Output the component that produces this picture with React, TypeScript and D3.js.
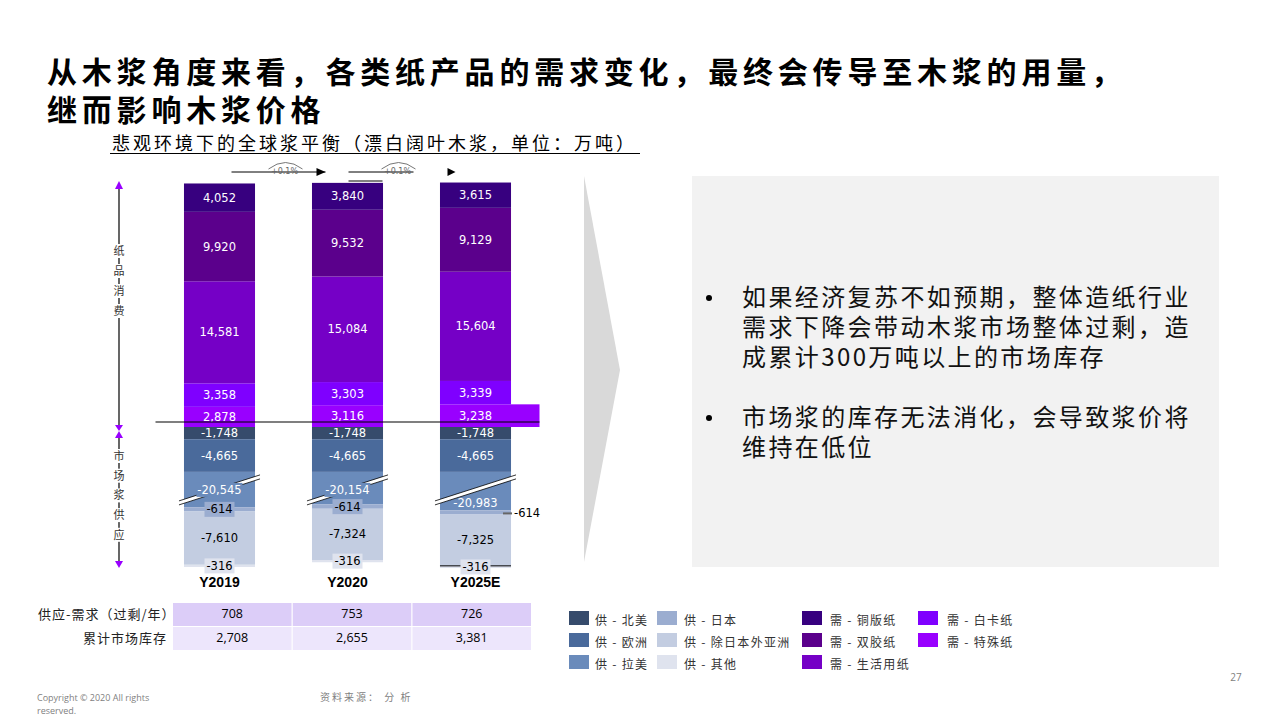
import * as d3 from 'd3';

// ---- data (万吨) ----
const years = ['Y2019', 'Y2020', 'Y2025E'];

// demand, stacked upward from zero (bottom first)
const demandNames = ['特殊纸', '白卡纸', '生活用纸', '双胶纸', '铜版纸'];
const specialty = [2878, 3116, 3238];
const boxboard = [3358, 3303, 3339];
const tissue = [14581, 15084, 15604];
const woodfree = [9920, 9532, 9129];
const coated = [4052, 3840, 3615];

// supply, stacked downward from zero (top first)
const supplyNames = ['北美', '欧洲', '拉美', '日本', '除日本外亚洲', '其他'];
const northAmerica = [-1748, -1748, -1748];
const europe = [-4665, -4665, -4665];
const latinAmerica = [-20545, -20154, -20983];
const japan = [-614, -614, -614];
const asiaExJapan = [-7610, -7324, -7325];
const others = [-316, -316, -316];

const surplus = [708, 753, 726];
const inventory = [2708, 2655, 3381];

// part of the Latin America bar that is cut out by the axis break
const AXIS_BREAK = 15500;

const demandColors: Record<string, string> = {
  特殊纸: '#9900ff',
  白卡纸: '#7f00ff',
  生活用纸: '#7500c6',
  双胶纸: '#5b008c',
  铜版纸: '#37007f',
};
const supplyColors: Record<string, string> = {
  北美: '#364b6c',
  欧洲: '#4a6a9b',
  拉美: '#6a8bbb',
  日本: '#9badd0',
  除日本外亚洲: '#c3cde1',
  其他: '#dfe3ee',
};

const demandSeries = [specialty, boxboard, tissue, woodfree, coated].map((values, i) => ({
  name: demandNames[i],
  values,
}));
const supplySeries = [northAmerica, europe, latinAmerica, japan, asiaExJapan, others].map((values, i) => ({
  name: supplyNames[i],
  values,
}));

const legendCols = [
  ['供 - 北美', '供 - 欧洲', '供 - 拉美'],
  ['供 - 日本', '供 - 除日本外亚洲', '供 - 其他'],
  ['需 - 铜版纸', '需 - 双胶纸', '需 - 生活用纸'],
  ['需 - 白卡纸', '需 - 特殊纸'],
];
const legendColorCols = [
  [supplyColors['北美'], supplyColors['欧洲'], supplyColors['拉美']],
  [supplyColors['日本'], supplyColors['除日本外亚洲'], supplyColors['其他']],
  [demandColors['铜版纸'], demandColors['双胶纸'], demandColors['生活用纸']],
  [demandColors['白卡纸'], demandColors['特殊纸']],
];

const fmt = d3
  .formatLocale({ decimal: '.', thousands: ',', grouping: [3], currency: ['', ''], minus: '-' })
  .format(',');

const CJK = '"Noto Sans CJK SC", "Noto Sans", sans-serif';
const NUM = '"DejaVu Sans", Verdana, sans-serif';
const NUM_SIZE = 11.5;

export default function App() {
  const xScale = d3.scaleBand<string>().domain(years).range([155.5, 539.5]).paddingInner(0.445).paddingOuter(0.2225);
  const yScale = d3.scaleLinear().domain([0, 35000]).range([427, 182]);
  const tableX = d3.scaleBand<string>().domain(years).range([173, 531]).paddingInner(0.01);
  const bw = xScale.bandwidth();
  const axisX = 119;

  const bars = years.map((yr, i) => {
    const x0 = xScale(yr)!;
    const cx = x0 + bw / 2;
    const last = i === years.length - 1;
    const els: any[] = [];
    const labels: any[] = [];

    // demand
    let acc = 0;
    demandSeries.forEach((s) => {
      const v = s.values[i];
      const yb = yScale(acc);
      acc += v;
      const yt = yScale(acc);
      const wide = last && s.name === '特殊纸';
      els.push(
        <rect key={'d' + s.name} x={x0} y={yt} width={wide ? xScale.range()[1] - x0 : bw} height={yb - yt} fill={demandColors[s.name]} />
      );
      labels.push(
        <text key={'dl' + s.name} x={cx} y={(yt + yb) / 2} dy="0.35em" textAnchor="middle" fill="#fff" fontSize={NUM_SIZE} fontFamily={NUM}>
          {fmt(v)}
        </text>
      );
    });

    // supply
    acc = 0;
    supplySeries.forEach((s) => {
      const v = s.values[i];
      const disp = s.name === '拉美' ? v + AXIS_BREAK : v;
      const yt = yScale(acc);
      acc += disp;
      const yb = yScale(acc);
      const color = supplyColors[s.name];
      els.push(<rect key={'s' + s.name} x={x0} y={yt} width={bw} height={yb - yt} fill={color} />);
      const dark = ['北美', '欧洲', '拉美'].includes(s.name);
      const mid = (yt + yb) / 2;
      if (s.name === '拉美') {
        const bc = yt + 16;
        const half = 13;
        const xl = x0 - 5;
        const xr = x0 + bw + 5;
        const th = 4;
        labels.push(
          <g key="break">
            <path d={`M${xl},${bc + half}L${xr},${bc - half}L${xr},${bc - half + th}L${xl},${bc + half + th}Z`} fill="#fff" />
            <line x1={xl} y1={bc + half} x2={xr} y2={bc - half} stroke="#000" strokeWidth={0.8} />
            <line x1={xl} y1={bc + half + th} x2={xr} y2={bc - half + th} stroke="#000" strokeWidth={0.8} />
          </g>
        );
        const ly = last ? yt + 31 : bc + 2;
        if (!last) labels.push(<rect key="lab-bg" x={cx - 23} y={ly - 7} width={46} height={14} fill={color} />);
        labels.push(
          <text key="lab" x={cx} y={ly} dy="0.35em" textAnchor="middle" fill="#fff" fontSize={NUM_SIZE} fontFamily={NUM}>
            {fmt(v)}
          </text>
        );
      } else if (s.name === '日本' && last) {
        labels.push(
          <g key="jp">
            <line x1={x0 + bw - 8} x2={x0 + bw + 1} y1={mid + 1} y2={mid + 1} stroke="#666" strokeWidth={2} />
            <text x={x0 + bw + 3} y={mid + 1} dy="0.35em" fill="#000" fontSize={NUM_SIZE} fontFamily={NUM}>
              {fmt(v)}
            </text>
          </g>
        );
      } else if (s.name === '日本' || s.name === '其他') {
        if (s.name === '其他' && last) {
          labels.push(<line key="base" x1={x0} x2={x0 + bw} y1={yt} y2={yt} stroke="#000" strokeWidth={1} />);
        }
        labels.push(
          <g key={'box' + s.name}>
            <rect x={cx - 15} y={mid - 7.5} width={30} height={15} fill={color} />
            <text x={cx} y={mid} dy="0.35em" textAnchor="middle" fill="#000" fontSize={NUM_SIZE} fontFamily={NUM}>
              {fmt(v)}
            </text>
          </g>
        );
      } else {
        labels.push(
          <text key={'sl' + s.name} x={cx} y={mid} dy="0.35em" textAnchor="middle" fill={dark ? '#fff' : '#000'} fontSize={NUM_SIZE} fontFamily={NUM}>
            {fmt(v)}
          </text>
        );
      }
    });

    return (
      <g key={yr}>
        {els}
        {labels}
        <text x={cx} y={582} dy="0.35em" textAnchor="middle" fontWeight="bold" fontSize={14} fontFamily='"Liberation Sans", Arial, sans-serif'>
          {yr}
        </text>
      </g>
    );
  });

  const demandChars = ['纸', '品', '消', '费'];
  const supplyChars = ['市', '场', '浆', '供', '应'];
  const purple = '#9900ff';

  const c0 = xScale(years[0])! + bw / 2;
  const c1 = xScale(years[1])! + bw / 2;
  const c2 = xScale(years[2])! + bw / 2;

  return (
    <svg width={1280} height={720} style={{ position: 'absolute', left: 0, top: 0, background: '#fff' }}>
      <text x={47} y={83} fontSize={30} letterSpacing={4.8} fontWeight={600} fontFamily={CJK}>
        从木浆角度来看，各类纸产品的需求变化，最终会传导至木浆的用量，
      </text>
      <text x={47} y={121} fontSize={30} letterSpacing={4.8} fontWeight={600} fontFamily={CJK}>
        继而影响木浆价格
      </text>
      <text x={112} y={150} fontSize={18} letterSpacing={3} fontFamily={CJK}>
        悲观环境下的全球浆平衡（漂白阔叶木浆，单位：万吨）
      </text>
      <line x1={110} x2={640} y1={153.5} y2={153.5} stroke="#000" strokeWidth={1.2} />

      {/* growth arrows */}
      <g stroke="#000" strokeWidth={1}>
        <line x1={c0 + 12} x2={c1 - 22} y1={172} y2={172} />
        <line x1={c1 + 1} x2={c1 + 66} y1={172} y2={172} />
        <line x1={c1 + 1} x2={c1 + 35} y1={181} y2={181} />
      </g>
      <path d={`M${c1 - 22},172l-9,-4v8z`} fill="#000" />
      <path d={`M${c2 - 20},172l-8,-4v8z`} fill="#000" />
      {[c0 + 66, c1 + 51].map((x, k) => (
        <g key={k}>
          <path d={`M${x - 17},169Q${x},156 ${x + 17},169`} fill="none" stroke="#666" strokeWidth={0.9} />
          <text x={x - 1} y={171} dy="0.35em" textAnchor="middle" fontSize={8} fill="#666" fontFamily={NUM}>
            +0.1%
          </text>
        </g>
      ))}

      {/* left axis */}
      <line x1={axisX} x2={axisX} y1={186} y2={426} stroke="#000" strokeWidth={1.2} />
      <line x1={axisX} x2={axisX} y1={437} y2={563} stroke="#000" strokeWidth={1.2} />
      <path d={`M${axisX},181l-4,8h8z`} fill={purple} />
      <path d={`M${axisX - 4},425h8l-4,6z`} fill={purple} />
      <path d={`M${axisX - 4},438h8l-4,-7z`} fill={purple} />
      <path d={`M${axisX - 4},561h8l-4,7z`} fill={purple} />
      {demandChars.map((c, k) => (
        <g key={c}>
          <rect x={axisX - 7} y={251 + k * 20 - 7} width={14} height={14} fill="#fff" />
          <text x={axisX} y={251 + k * 20} dy="0.35em" textAnchor="middle" fontSize={11} fill="#333" fontFamily={CJK}>
            {c}
          </text>
        </g>
      ))}
      {supplyChars.map((c, k) => (
        <g key={c}>
          <rect x={axisX - 7} y={456 + k * 19.7 - 7} width={14} height={14} fill="#fff" />
          <text x={axisX} y={456 + k * 19.7} dy="0.35em" textAnchor="middle" fontSize={11} fill="#333" fontFamily={CJK}>
            {c}
          </text>
        </g>
      ))}

      {bars}
      <line x1={xScale.range()[0]} x2={xScale.range()[1]} y1={yScale(0) - 5} y2={yScale(0) - 5} stroke="#000" strokeWidth={1.2} />

      {/* table */}
      {years.map((yr, i) => (
        <g key={'t' + yr}>
          <rect x={tableX(yr)} y={603} width={tableX.bandwidth()} height={23} fill="#dccdf8" />
          <rect x={tableX(yr)} y={627} width={tableX.bandwidth()} height={23} fill="#ede6fc" />
          <text x={tableX(yr)! + tableX.bandwidth() / 2} y={614} dy="0.35em" textAnchor="middle" fontSize={12.5} fontFamily='"Open Sans", sans-serif'>
            {fmt(surplus[i])}
          </text>
          <text x={tableX(yr)! + tableX.bandwidth() / 2} y={638} dy="0.35em" textAnchor="middle" fontSize={12.5} fontFamily='"Open Sans", sans-serif'>
            {fmt(inventory[i])}
          </text>
        </g>
      ))}
      <text x={38} y={614} dy="0.35em" fontSize={13} letterSpacing={1} fill="#222" fontFamily={CJK}>
        供应-需求（过剩/年）
      </text>
      <text x={167} y={638} dy="0.35em" textAnchor="end" fontSize={13} letterSpacing={1} fill="#222" fontFamily={CJK}>
        累计市场库存
      </text>

      {/* legend */}
      {legendCols.map((col, ci) =>
        col.map((label, ri) => {
          const lx = [569, 657, 802, 918][ci];
          const tx = [595, 684, 830, 947][ci];
          const ly = 611 + ri * 22;
          return (
            <g key={label}>
              <rect x={lx} y={ly} width={20} height={14} fill={legendColorCols[ci][ri]} />
              <text x={tx} y={ly + 10} dy="0.35em" fontSize={12} letterSpacing={1.3} fill="#333" fontFamily={CJK}>
                {label}
              </text>
            </g>
          );
        })
      )}

      {/* right panel */}
      <path d="M584,176L620,370L584,562Z" fill="#d9d9d9" />
      <rect x={692} y={176} width={527} height={391} fill="#f2f2f2" />
      {[
        ['如果经济复苏不如预期，整体造纸行业', '需求下降会带动木浆市场整体过剩，造', '成累计300万吨以上的市场库存'],
        ['市场浆的库存无法消化，会导致浆价将', '维持在低位'],
      ].map((lines, bi) => {
        const y0 = bi === 0 ? 298 : 418;
        return (
          <g key={bi}>
            <circle cx={709} cy={y0} r={3} fill="#000" />
            {lines.map((l, li) => (
              <text key={li} x={742} y={y0 + li * 30} dy="0.35em" fontSize={24} letterSpacing={2.4} fill="#111" fontFamily={CJK}>
                {l}
              </text>
            ))}
          </g>
        );
      })}

      {/* footer */}
      <text x={1236} y={677} dy="0.35em" textAnchor="middle" fontSize={10} fill="#7f7f7f" fontFamily='"Open Sans", sans-serif'>
        27
      </text>
      <text x={37} y={698} dy="0.35em" fontSize={9} fill="#7f7f7f" fontFamily='"Open Sans", sans-serif'>
        Copyright © 2020  All rights
      </text>
      <text x={37} y={711} dy="0.35em" fontSize={9} fill="#7f7f7f" fontFamily='"Open Sans", sans-serif'>
        reserved.
      </text>
      <text x={320} y={697} dy="0.35em" fontSize={10} letterSpacing={2} fill="#7f7f7f" fontFamily={CJK}>
        资料来源： 分 析
      </text>
    </svg>
  );
}
